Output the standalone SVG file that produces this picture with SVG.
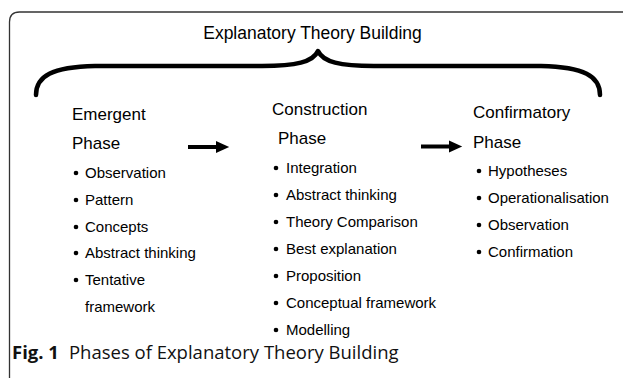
<svg xmlns="http://www.w3.org/2000/svg" width="623" height="379" viewBox="0 0 623 379">
<style>
  .t { font-family: "Liberation Sans", Arial, sans-serif; fill: #000; }
  .title { font-size: 17.5px; }
  .head { font-size: 17px; }
  .item { font-size: 15px; }
  .cap { font-family: "Open Sans", "Noto Sans", sans-serif; font-size: 18.5px; fill: #111; }
  .frame { fill: none; stroke: #333; stroke-width: 1.3; }
  .brace { fill: none; stroke: #000; stroke-width: 4.5; stroke-linecap: round; stroke-linejoin: round; }
  .shaft { stroke: #000; stroke-width: 4; }
</style>
<defs>
  <marker id="ah" markerWidth="4" markerHeight="4" refX="0" refY="2" orient="auto" markerUnits="strokeWidth">
    <path d="M0,0.5 L3.3,2 L0,3.5 Z" fill="#000"/>
  </marker>
</defs>
<rect width="623" height="379" fill="#fff"/>
<path class="frame" d="M9.5,378 L9.5,22 Q9.5,12 19.5,12 L623,12"/>

<g id="title">
  <text class="t title" x="312.5" y="39" text-anchor="middle">Explanatory Theory Building</text>
  <path class="brace" d="M36,95 C36,76 52,67 95,66 L262,66 C296,66 313,62 318,51 C323,62 340,66 374,66 L541,66 C584,67 600,76 600,95"/>
</g>

<g id="connectors">
  <line class="shaft" x1="188" y1="147" x2="216" y2="147" marker-end="url(#ah)"/>
  <line class="shaft" x1="421" y1="146.5" x2="449" y2="146.5" marker-end="url(#ah)"/>
</g>

<g id="emergent">
  <text class="t head" x="72" y="120">Emergent</text>
  <text class="t head" x="72" y="149">Phase</text>
  <g class="t item">
    <circle cx="76" cy="173" r="2.3"/><text x="85" y="178">Observation</text>
    <circle cx="76" cy="200" r="2.3"/><text x="85" y="205">Pattern</text>
    <circle cx="76" cy="227" r="2.3"/><text x="85" y="232">Concepts</text>
    <circle cx="76" cy="253" r="2.3"/><text x="85" y="258">Abstract thinking</text>
    <circle cx="76" cy="280" r="2.3"/><text x="85" y="285">Tentative</text>
    <text x="85" y="312">framework</text>
  </g>
</g>

<g id="construction">
  <text class="t head" x="272" y="115">Construction</text>
  <text class="t head" x="278" y="144">Phase</text>
  <g class="t item">
    <circle cx="276" cy="168" r="2.3"/><text x="286" y="173">Integration</text>
    <circle cx="276" cy="195" r="2.3"/><text x="286" y="200">Abstract thinking</text>
    <circle cx="276" cy="222" r="2.3"/><text x="286" y="227">Theory Comparison</text>
    <circle cx="276" cy="249" r="2.3"/><text x="286" y="254">Best explanation</text>
    <circle cx="276" cy="276" r="2.3"/><text x="286" y="281">Proposition</text>
    <circle cx="276" cy="303" r="2.3"/><text x="286" y="308">Conceptual framework</text>
    <circle cx="276" cy="330" r="2.3"/><text x="286" y="335">Modelling</text>
  </g>
</g>

<g id="confirmatory">
  <text class="t head" x="473" y="118">Confirmatory</text>
  <text class="t head" x="473" y="148">Phase</text>
  <g class="t item">
    <circle cx="479" cy="171" r="2.3"/><text x="488" y="176">Hypotheses</text>
    <circle cx="479" cy="198" r="2.3"/><text x="488" y="203">Operationalisation</text>
    <circle cx="479" cy="225" r="2.3"/><text x="488" y="230">Observation</text>
    <circle cx="479" cy="252" r="2.3"/><text x="488" y="257">Confirmation</text>
  </g>
</g>

<g id="caption">
  <text class="cap" x="12" y="359"><tspan font-weight="bold">Fig. 1</tspan><tspan dx="10">Phases of Explanatory Theory Building</tspan></text>
</g>
</svg>
